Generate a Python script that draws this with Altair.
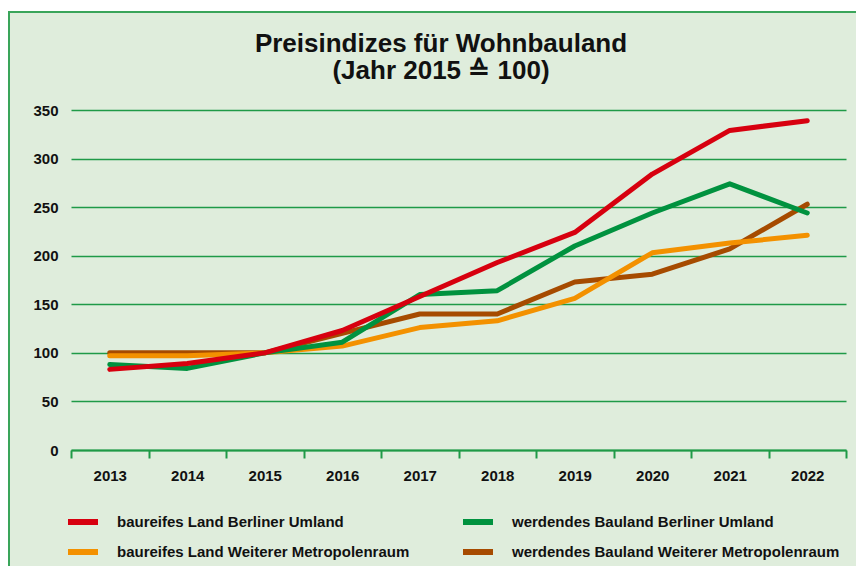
import altair as alt
import pandas as pd

years = ["2013", "2014", "2015", "2016", "2017", "2018", "2019", "2020", "2021", "2022"]
series_names = [
    "baureifes Land Berliner Umland",
    "werdendes Bauland Berliner Umland",
    "baureifes Land Weiterer Metropolenraum",
    "werdendes Bauland Weiterer Metropolenraum",
]
colors = ["#D7000F", "#00923F", "#F39100", "#A64B00"]

baureif_berlin = [83, 89, 100, 123, 158, 193, 224, 284, 329, 339]
werdend_berlin = [88, 84, 100, 111, 160, 164, 210, 244, 274, 244]
baureif_weiter = [97, 97, 100, 107, 126, 133, 156, 203, 213, 221]
werdend_weiter = [100, 100, 100, 120, 140, 140, 173, 181, 207, 253]

title_lines = ["Preisindizes für Wohnbauland", "(Jahr 2015 ≙ 100)"]

values = [baureif_berlin, werdend_berlin, baureif_weiter, werdend_weiter]
draw_order = [3, 2, 1, 0]  # brown below, red on top
legend_order = [0, 2, 1, 3]  # legend fills column by column

rows = []
for rank, idx in enumerate(draw_order):
    for y, v in zip(years, values[idx]):
        rows.append({"Jahr": y, "Index": v, "Reihe": series_names[idx], "z": rank})
df = pd.DataFrame(rows)

FONT = "Liberation Sans"
BG = "#DFEDDC"
GRID = "#1F9A47"
BORDER = "#3AA55A"
one = pd.DataFrame({"a": [0]})

top_strip = alt.Chart(one).mark_rect(fill="white").encode(
    x=alt.value(-70), x2=alt.value(900), y=alt.value(-110), y2=alt.value(-98)
)
top_border = alt.Chart(one).mark_rule(stroke=BORDER, strokeWidth=2).encode(
    x=alt.value(-64), x2=alt.value(900), y=alt.value(-98)
)
left_border = alt.Chart(one).mark_rule(stroke=BORDER, strokeWidth=2).encode(
    x=alt.value(-62), y=alt.value(-98), y2=alt.value(700)
)

title1 = alt.Chart(pd.DataFrame({"t": [title_lines[0]]})).mark_text(
    font=FONT, fontSize=26, fontWeight="bold", color="#111111", align="center", baseline="alphabetic"
).encode(text="t:N", x=alt.value(370), y=alt.value(-58))
title2 = alt.Chart(pd.DataFrame({"t": [title_lines[1]]})).mark_text(
    font=FONT, fontSize=26, fontWeight="bold", color="#111111", align="center", baseline="alphabetic"
).encode(text="t:N", x=alt.value(370), y=alt.value(-31))

lines = alt.Chart(df).mark_line(strokeWidth=5, strokeCap="round", strokeJoin="round").encode(
    x=alt.X(
        "Jahr:O",
        bandPosition=0.5,
        scale=alt.Scale(type="band", paddingInner=0, paddingOuter=0, domain=years),
        axis=alt.Axis(
            title=None, labelAngle=0, domainColor=GRID, domainWidth=2, tickColor=GRID,
            tickWidth=2, tickSize=8, tickBand="extent", labelPadding=10,
            labelFont=FONT, labelFontSize=15, labelFontWeight="bold", labelColor="#111111",
        ),
    ),
    y=alt.Y(
        "Index:Q",
        scale=alt.Scale(domain=[0, 350], nice=False),
        axis=alt.Axis(
            title=None, values=[0, 50, 100, 150, 200, 250, 300, 350], domain=False,
            ticks=False, gridColor=GRID, gridWidth=1.5, labelPadding=13,
            labelFont=FONT, labelFontSize=15, labelFontWeight="bold", labelColor="#111111",
        ),
    ),
    color=alt.Color(
        "Reihe:N",
        scale=alt.Scale(domain=[series_names[i] for i in legend_order],
                        range=[colors[i] for i in legend_order]),
        legend=alt.Legend(
            title=None, orient="none", legendX=-6, legendY=394, columns=2,
            columnPadding=41, rowPadding=0, symbolType="stroke", symbolSize=900,
            symbolStrokeWidth=6, labelOffset=16, labelFont=FONT, labelFontSize=15,
            labelFontWeight="bold", labelColor="#111111", labelLimit=400,
        ),
    ),
    detail="z:O",
    order="Jahr:O",
)

chart = alt.layer(top_strip, top_border, left_border, title1, title2, lines).properties(
    width=775,
    height=340,
    autosize=alt.AutoSizeParams(type="none"),
    padding={"left": 63, "top": 102, "right": 10, "bottom": 116},
).configure(background=BG).configure_view(stroke=None)

chart.save("out.html", embed_options={"renderer": "svg", "actions": False})
